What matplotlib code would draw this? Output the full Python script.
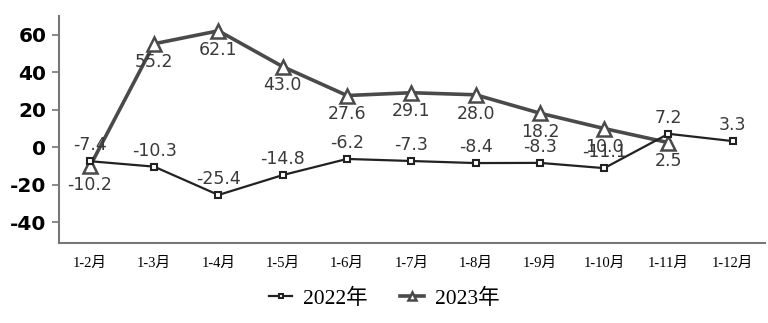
import matplotlib
matplotlib.use("Agg")
import matplotlib.pyplot as plt

categories = ["1-2月", "1-3月", "1-4月", "1-5月", "1-6月", "1-7月", "1-8月", "1-9月", "1-10月", "1-11月", "1-12月"]
s2022 = [-7.4, -10.3, -25.4, -14.8, -6.2, -7.3, -8.4, -8.3, -11.1, 7.2, 3.3]
s2023 = [-10.2, 55.2, 62.1, 43.0, 27.6, 29.1, 28.0, 18.2, 10.0, 2.5]
yticks = [-40, -20, 0, 20, 40, 60]

serif = ["Liberation Serif", "Noto Sans CJK SC"]

fig = plt.figure(figsize=(7.68, 3.23), dpi=100)
ax = fig.add_axes([0.0768, 0.2477, 0.996 - 0.0768, 0.9505 - 0.2477])

x22 = list(range(len(s2022)))
x23 = list(range(len(s2023)))

ax.plot(x22, s2022, color="#222222", lw=1.6, marker="s", ms=5, mfc="white",
        mec="#222222", mew=1.5, label="2022年", zorder=3)
ax.plot(x23, s2023, color="#4a4a4a", lw=2.6, marker="^", ms=10, mfc="white",
        mec="#4a4a4a", mew=1.8, label="2023年", zorder=2)

for x, v in zip(x22, s2022):
    ax.annotate(f"{v:.1f}", (x, v), xytext=(0, 5), textcoords="offset points",
                ha="center", va="bottom", fontsize=12.5, color="#3a3a3a",
                family="DejaVu Sans", zorder=4)
for x, v in zip(x23, s2023):
    ax.annotate(f"{v:.1f}", (x, v), xytext=(0, -7), textcoords="offset points",
                ha="center", va="top", fontsize=12.5, color="#3a3a3a",
                family="DejaVu Sans", zorder=4)

ax.set_xlim(-0.48, 10.5)
ax.set_ylim(-51, 70)
ax.set_yticks(yticks)
ax.set_yticklabels([str(t) for t in yticks], fontsize=14.5, fontweight="bold",
                   family="DejaVu Sans")
ax.set_xticks(x22)
ax.set_xticklabels(categories, fontsize=10.5, family=serif)
ax.tick_params(axis="x", length=0, pad=10)
ax.tick_params(axis="y", length=5, color="#777777", width=1.2, pad=4)

for side in ["top", "right"]:
    ax.spines[side].set_visible(False)
for side in ["left", "bottom"]:
    ax.spines[side].set_color("#777777")
    ax.spines[side].set_linewidth(1.5)

leg = fig.legend(loc="center", bbox_to_anchor=(0.5, 0.075), ncol=2, frameon=False,
                 prop={"family": serif, "size": 15.5}, handlelength=1.1,
                 columnspacing=1.5, handletextpad=0.5, markerscale=0.55)

fig.savefig("out.png", dpi=100)
